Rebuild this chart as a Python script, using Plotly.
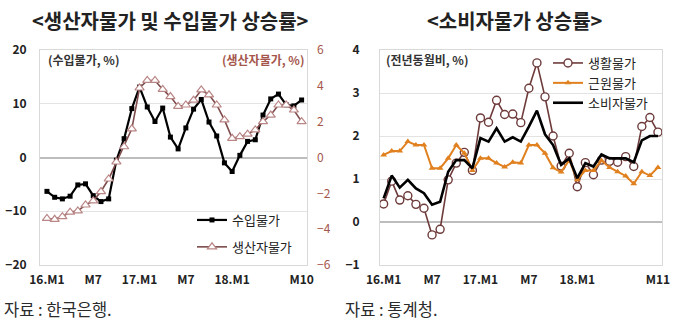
import plotly.graph_objects as go

# ---- data -------------------------------------------------------------
# left panel: 16.M1 .. 18.M10 (34 months)
import_prices = [-6.3, -7.4, -7.7, -7.2, -5.1, -4.9, -7.1, -8.2, -7.7, -0.5,
                 3.5, 9.1, 13.1, 9.4, 6.7, 9.2, 3.8, 1.6, 5.5, 9.0,
                 10.8, 6.6, 4.0, -1.0, -2.6, 0.4, 3.0, 3.3, 7.9, 10.9,
                 11.8, 9.8, 9.6, 10.7]
producer_prices = [-3.4, -3.45, -3.3, -3.05, -2.98, -2.65, -2.42, -1.9, -1.2, -0.25,
                   0.6, 1.6, 3.88, 4.3, 4.3, 3.8, 3.4, 2.85, 2.93, 3.2,
                   3.77, 3.5, 2.93, 2.1, 1.07, 1.16, 1.3, 1.54, 2.0, 2.37,
                   2.93, 2.93, 2.65, 2.0]
left_ticks = [0, 6, 12, 18, 24, 33]
left_ticktext = ["16.M1", "M7", "17.M1", "M7", "18.M1", "M10"]

# right panel: 16.M1 .. 18.M11 (35 months)
living_cpi = [0.42, 0.95, 0.51, 0.61, 0.41, 0.32, -0.3, -0.17, 0.98, 1.37,
              1.62, 1.2, 2.42, 2.32, 2.83, 2.5, 2.51, 2.31, 3.11, 3.7,
              2.91, 2.0, 1.3, 1.6, 0.82, 1.38, 1.1, 1.44, 1.41, 1.39,
              1.52, 1.29, 2.22, 2.43, 2.09]
core_cpi = [1.56, 1.65, 1.65, 1.87, 1.79, 1.79, 1.25, 1.25, 1.48, 1.79,
            1.6, 1.2, 1.48, 1.48, 1.37, 1.28, 1.39, 1.37, 1.79, 1.79,
            1.6, 1.26, 1.16, 1.44, 0.98, 1.2, 1.2, 1.43, 1.27, 1.17,
            1.07, 0.89, 1.17, 1.08, 1.27]
headline_cpi = [0.55, 1.08, 0.8, 0.98, 0.78, 0.67, 0.4, 0.47, 1.17, 1.44,
                1.44, 1.25, 1.95, 1.87, 2.18, 1.87, 1.97, 1.87, 2.22, 2.59,
                2.04, 1.79, 1.33, 1.48, 1.02, 1.37, 1.29, 1.57, 1.48, 1.48,
                1.48, 1.39, 1.9, 2.0, 2.0]
right_ticks = [0, 6, 12, 18, 24, 34]
right_ticktext = ["16.M1", "M7", "17.M1", "M7", "18.M1", "M11"]

# ---- styling ----------------------------------------------------------
FONT = "Noto Sans CJK KR"
PPI_LINE = "#7d4b4b"
PPI_MARK = "#b98585"
LIV_LINE = "#6e3b3b"
CORE = "#e0801f"
AXIS_RED = "#a5564c"
GRID = "#e3e3e3"
BOX = "#d9d9d9"
ZERO = "#bdbdbd"

W, H = 680, 330
def px(xp):
    return xp / W
def py(yp):
    return 1 - yp / H

lx = list(range(len(import_prices)))
rx = list(range(len(living_cpi)))

fig = go.Figure()

fig.add_trace(go.Scatter(
    x=lx, y=import_prices, name="수입물가", mode="lines+markers",
    line=dict(color="black", width=2.2),
    marker=dict(symbol="square", size=5, color="black"),
    xaxis="x", yaxis="y", legend="legend", legendgroup="a"))
fig.add_trace(go.Scatter(
    x=lx, y=producer_prices, name="생산자물가", mode="lines+markers",
    line=dict(color=PPI_LINE, width=1.6),
    marker=dict(symbol="triangle-up", size=8, color="white",
                line=dict(color=PPI_MARK, width=1.2)),
    xaxis="x", yaxis="y3", legend="legend", legendgroup="b"))

fig.add_trace(go.Scatter(
    x=rx, y=living_cpi, name="생활물가", mode="lines+markers",
    line=dict(color=LIV_LINE, width=1.6),
    marker=dict(symbol="circle", size=8, color="white",
                line=dict(color=LIV_LINE, width=1.4)),
    xaxis="x2", yaxis="y2", legend="legend2"))
fig.add_trace(go.Scatter(
    x=rx, y=core_cpi, name="근원물가", mode="lines+markers",
    line=dict(color=CORE, width=2),
    marker=dict(symbol="triangle-up", size=6, color=CORE),
    xaxis="x2", yaxis="y2", legend="legend2"))
fig.add_trace(go.Scatter(
    x=rx, y=headline_cpi, name="소비자물가", mode="lines",
    line=dict(color="black", width=2.6),
    xaxis="x2", yaxis="y2", legend="legend2"))

ydom = [py(265), py(50)]
tickfont = dict(family=FONT, size=12, color="#222222", weight=700)

xcommon = dict(showgrid=False, zeroline=False, showline=True, linecolor=BOX,
               linewidth=1, mirror=True, ticks="", tickfont=tickfont,
               ticklabelstandoff=4, fixedrange=True, automargin=False)
ycommon = dict(showgrid=True, gridcolor=GRID, gridwidth=1, zeroline=True,
               zerolinecolor=ZERO, zerolinewidth=2, showline=True,
               linecolor=BOX, linewidth=1, mirror=True, ticks="",
               tickfont=tickfont, automargin=False)

fig.update_layout(
    width=W, height=H,
    margin=dict(l=0, r=0, t=0, b=0, autoexpand=False),
    paper_bgcolor="white", plot_bgcolor="white",
    font=dict(family=FONT, color="#222222"),
    xaxis=dict(xcommon, domain=[px(40), px(307)], range=[-0.9, 33.7],
               tickvals=left_ticks, ticktext=left_ticktext, anchor="y"),
    yaxis=dict(ycommon, domain=ydom, range=[-20, 20], dtick=10, anchor="x",
               ticklabelstandoff=10),
    yaxis3=dict(overlaying="y", side="right", anchor="x", range=[-6, 6],
                dtick=2, showgrid=False, zeroline=False, showline=False,
                ticks="", ticklabelstandoff=9, automargin=False,
                tickfont=dict(family=FONT, size=12, color=AXIS_RED)),
    xaxis2=dict(xcommon, domain=[px(380), px(662)], range=[-0.45, 34.5],
                tickvals=right_ticks, ticktext=right_ticktext, anchor="y2"),
    yaxis2=dict(ycommon, domain=ydom, range=[-1, 4], dtick=1, anchor="x2",
                ticklabelstandoff=17),
    legend=dict(x=px(192), y=py(205), xanchor="left", yanchor="top",
                bgcolor="rgba(0,0,0,0)", tracegroupgap=7, itemwidth=30,
                font=dict(family=FONT, size=13, color="#222222")),
    legend2=dict(x=px(548), y=py(48), xanchor="left", yanchor="top",
                 bgcolor="rgba(0,0,0,0)", itemwidth=30,
                 font=dict(family=FONT, size=13, color="#222222")),
    showlegend=True,
)

annotations = [
    dict(text="<생산자물가 및 수입물가 상승률>", x=px(170), y=py(21),
         font=dict(size=20, weight=700, color="#222222")),
    dict(text="<소비자물가 상승률>", x=px(515), y=py(21),
         font=dict(size=20, weight=700, color="#222222")),
    dict(text="(수입물가, %)", x=px(46), y=py(59), xanchor="left",
         font=dict(size=12, weight=700, color="#333333")),
    dict(text="(생산자물가, %)", x=px(306), y=py(59), xanchor="right",
         font=dict(size=12, weight=700, color=AXIS_RED)),
    dict(text="(전년동월비, %)", x=px(384), y=py(59), xanchor="left",
         font=dict(size=12, weight=700, color="#333333")),
    dict(text="자료 : 한국은행.", x=px(2), y=py(309), xanchor="left",
         font=dict(size=16.5, color="#2a2a2a")),
    dict(text="자료 : 통계청.", x=px(343), y=py(309), xanchor="left",
         font=dict(size=16.5, color="#2a2a2a")),
]
for a in annotations:
    a.update(xref="paper", yref="paper", showarrow=False, yanchor="middle")
    a["font"].setdefault("family", FONT)
    a.setdefault("xanchor", "center")
fig.update_layout(annotations=annotations)

fig.write_html("out.html")
